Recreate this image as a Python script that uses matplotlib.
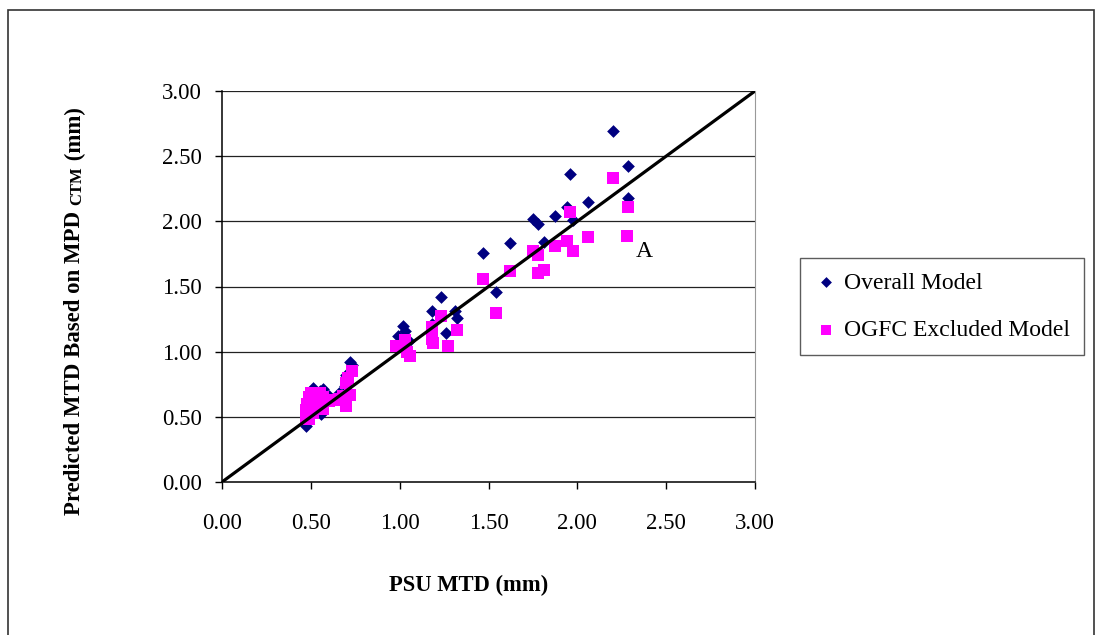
import matplotlib
matplotlib.use("Agg")
import matplotlib.pyplot as plt
from matplotlib.patches import Rectangle

# Overall Model (navy diamonds)
overall_x = [2.20, 2.285, 2.285, 1.96, 2.06, 1.94, 1.875, 1.975, 1.75, 1.78, 1.81, 1.62, 1.47, 1.54,
             1.23, 1.18, 1.18, 1.31, 1.32, 1.26, 1.02, 1.03, 0.99, 1.05,
             0.72, 0.73, 0.70, 0.51, 0.47, 0.56, 0.55, 0.57, 0.49, 0.60, 0.66, 0.69, 0.53]
overall_y = [2.69, 2.425, 2.18, 2.36, 2.15, 2.11, 2.04, 2.01, 2.02, 1.98, 1.84, 1.83, 1.76, 1.46,
             1.42, 1.31, 1.21, 1.31, 1.26, 1.14, 1.20, 1.16, 1.12, 1.08,
             0.92, 0.90, 0.82, 0.72, 0.43, 0.52, 0.70, 0.71, 0.62, 0.66, 0.68, 0.74, 0.55]

# OGFC Excluded Model (magenta squares)
ogfc_x = [2.20, 2.285, 2.28, 1.96, 2.06, 1.94, 1.875, 1.975, 1.75, 1.78, 1.81, 1.78, 1.62, 1.47, 1.54,
          1.23, 1.18, 1.18, 1.19, 1.32, 1.27, 1.03, 0.98, 1.04, 1.06,
          0.47, 0.47, 0.48, 0.49, 0.50, 0.52, 0.53, 0.55, 0.57, 0.57, 0.60, 0.63, 0.66, 0.68,
          0.70, 0.70, 0.71, 0.73, 0.72, 0.49, 0.51]
ogfc_y = [2.33, 2.11, 1.89, 2.07, 1.88, 1.85, 1.81, 1.77, 1.77, 1.74, 1.63, 1.60, 1.62, 1.56, 1.30,
          1.27, 1.19, 1.10, 1.07, 1.17, 1.04, 1.09, 1.04, 1.00, 0.97,
          0.50, 0.55, 0.60, 0.65, 0.68, 0.62, 0.57, 0.68, 0.65, 0.56, 0.62, 0.63, 0.64, 0.66,
          0.58, 0.76, 0.80, 0.85, 0.67, 0.48, 0.53]

ticks = [0.00, 0.50, 1.00, 1.50, 2.00, 2.50, 3.00]
tick_labels = ["0.00", "0.50", "1.00", "1.50", "2.00", "2.50", "3.00"]
line_x = [0.0, 3.0]
line_y = [0.0, 3.0]

plt.rcParams['font.family'] = ['Liberation Serif', 'DejaVu Serif']

W, H = 1102, 635
fig = plt.figure(figsize=(W / 100, H / 100), dpi=100)
ax = fig.add_axes([222 / W, 1 - 482 / H, (755 - 222) / W, (482 - 91) / H])

# outer frame
fig.patches.append(Rectangle((8 / W, -0.02), (1094 - 8) / W, 1 - 10 / H + 0.02,
                             transform=fig.transFigure, fill=False, edgecolor='#333333',
                             linewidth=1.2, zorder=0))

ax.set_xlim(0, 3)
ax.set_ylim(0, 3)
for t in ticks[1:]:
    ax.axhline(t, color='#222222', linewidth=0.9, zorder=1)

ax.scatter(overall_x, overall_y, marker='D', s=42, color='#000080', zorder=3,
           linewidths=0, label='Overall Model')
ax.scatter(ogfc_x, ogfc_y, marker='s', s=78, color='#FF00FF', zorder=4,
           linewidths=0, label='OGFC Excluded Model')
ax.plot(line_x, line_y, color='black', linewidth=2.3, zorder=5)

ax.text(2.33, 1.77, "A", fontsize=17, ha='left', va='center')

ax.set_xticks(ticks)
ax.set_xticklabels(tick_labels, fontsize=16.5)
ax.set_yticks(ticks)
ax.set_yticklabels(tick_labels, fontsize=16.5)
ax.tick_params(axis='x', direction='out', length=5, pad=17.5, width=1)
ax.tick_params(axis='y', direction='out', length=5, pad=9.5, width=1)
ax.spines['top'].set_visible(False)
ax.spines['right'].set_color('#999999')
ax.spines['left'].set_linewidth(1.1)
ax.spines['bottom'].set_linewidth(1.1)

fig.text(469 / W, 1 - 585 / H, "PSU MTD (mm)", fontsize=16.3, fontweight='bold',
         ha='center', va='center')

# y label in pieces: normal + small "CTM" + normal
fig.canvas.draw()
r = fig.canvas.get_renderer()
x0 = 75 / W
y0 = 1 - 515 / H
pieces = [("Predicted MTD Based on MPD ", 16.5), ("CTM", 12), (" (mm)", 16.5)]
cur = y0
for txt, fs in pieces:
    xx = x0 if fs > 14 else x0 + 2 / W
    t = fig.text(xx, cur, txt, fontsize=fs, fontweight='bold', rotation=90,
                 rotation_mode='anchor', ha='left', va='center')
    fig.canvas.draw()
    bb = t.get_window_extent(r)
    cur = cur + bb.height / H

leg = ax.legend(loc='upper left', bbox_to_anchor=((800 - 222) / (755 - 222), (482 - 258) / (482 - 91)),
                frameon=True, fancybox=False, fontsize=17, handletextpad=0.25,
                labelspacing=1.1, borderpad=0.6, markerscale=0.85, handlelength=1.0,
                borderaxespad=0)
leg.get_frame().set_edgecolor('#333333')
leg.get_frame().set_linewidth(1.0)

fig.savefig("out.png", dpi=100)
